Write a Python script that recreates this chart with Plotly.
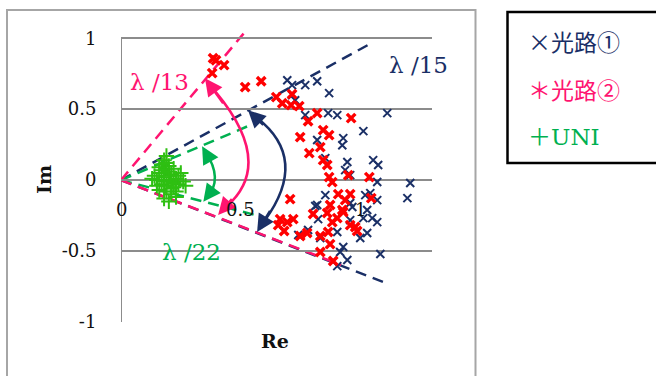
import plotly.graph_objects as go

# ---------------- data ----------------
route1_re = [0.695, 0.715, 0.770, 0.820, 0.870, 0.715, 0.728, 0.770, 0.866, 0.904,
             1.113, 1.013, 0.820, 0.929, 0.925, 0.854, 0.946, 1.054, 1.075, 0.937,
             0.958, 1.071, 1.209, 0.854, 1.197, 1.021, 1.042, 1.071, 0.812, 0.958,
             1.029, 1.013, 1.050, 1.071, 0.958, 0.824, 0.782, 0.741, 0.904, 0.929,
             0.946, 0.904, 1.084, 1.000, 1.029, 0.833, 0.820, 0.967, 0.916]
route1_im = [0.704, 0.669, 0.669, 0.697, 0.613, 0.599, 0.563, 0.458, 0.472, 0.458,
             0.472, 0.345, 0.282, 0.296, 0.246, 0.155, 0.127, 0.141, 0.106, 0.070,
             0.035, -0.014, -0.021, -0.106, -0.127, -0.106, -0.092, -0.141, -0.183, -0.162,
             -0.211, -0.268, -0.268, -0.296, -0.282, -0.275, -0.352, -0.387, -0.366, -0.472,
             -0.563, -0.606, -0.521, -0.408, -0.373, -0.408, -0.176, -0.190, -0.507]

route2_re = [0.385, 0.397, 0.431, 0.381, 0.519, 0.586, 0.649, 0.674, 0.715, 0.711,
             0.745, 0.782, 0.820, 0.962, 0.845, 0.870, 0.749, 0.833, 0.787, 0.845,
             0.862, 0.870, 0.883, 0.950, 1.038, 0.908, 0.958, 0.707, 0.874, 0.665,
             0.720, 0.682, 0.749, 0.803, 0.862, 0.929, 0.958, 0.987, 0.866, 0.874,
             0.833, 0.778, 0.887, 0.833, 1.046, 0.925, 0.904, 0.979, 0.883, 0.657,
             0.695, 0.937]
route2_im = [0.859, 0.845, 0.810, 0.754, 0.655, 0.697, 0.585, 0.542, 0.606, 0.528,
             0.521, 0.415, 0.472, 0.437, 0.352, 0.317, 0.303, 0.232, 0.190, 0.141,
             0.106, 0.021, -0.014, 0.035, 0.021, -0.099, -0.099, -0.134, -0.176, -0.275,
             -0.275, -0.359, -0.394, -0.239, -0.232, -0.225, -0.317, -0.359, -0.366, -0.451,
             -0.394, -0.373, -0.570, -0.507, -0.127, -0.211, -0.268, -0.331, -0.296, -0.317,
             -0.296, -0.141]

uni_re = [0.16, 0.18, 0.20, 0.19, 0.21, 0.17, 0.22, 0.19, 0.15, 0.23,
          0.20, 0.18, 0.17, 0.21, 0.24, 0.25, 0.16, 0.14, 0.22, 0.19,
          0.18, 0.20, 0.26, 0.23, 0.17, 0.20, 0.19, 0.21, 0.18, 0.22,
          0.16, 0.24, 0.15, 0.20, 0.21, 0.18, 0.13, 0.27, 0.19, 0.23]
uni_im = [0.05, 0.02, -0.01, 0.08, 0.04, -0.03, -0.05, -0.08, 0.00, 0.01,
          0.10, 0.14, 0.11, -0.10, -0.03, 0.05, -0.07, 0.03, 0.08, 0.17,
          -0.13, -0.15, -0.01, -0.08, 0.07, 0.03, -0.04, 0.00, 0.05, -0.02,
          0.09, 0.03, -0.04, 0.06, -0.06, -0.01, 0.01, -0.04, 0.12, -0.12]

x_tick_vals = [0, 0.5, 1]
x_tick_text = ["0", "0.5", "1"]
y_tick_vals = [-1, -0.5, 0, 0.5, 1]
y_tick_text = ["-1", "-0.5", "0", "0.5", "1"]

# guide lines from the origin: end points (Re, Im)
lam15_upper = (1.054, 0.972)
lam15_lower = (1.096, -0.718)
lam13_upper = (0.531, 1.070)
lam13_lower = (0.920, -0.598)
lam22_upper = (0.590, 0.423)
lam22_lower = (0.570, -0.250)

# curved double arrows: (start tip, control, end tip)
arc13 = ((0.351, 0.718), (0.6455, 0.116), (0.406, -0.246))
arc15 = ((0.531, 0.493), (0.788, 0.1485), (0.569, -0.366))
arc22 = ((0.339, 0.238), (0.4305, 0.0035), (0.344, -0.153))

# angle labels (text, Re, Im)
lab13 = ("λ /13", 0.163, 0.692)
lab15 = ("λ /15", 1.243, 0.810)
lab22 = ("λ /22", 0.293, -0.507)

legend_marks = ["×", "＊", "＋"]
legend_names = ["光路①", "光路②", "UNI"]

# ---------------- style ----------------
NAVY = "#1A2F66"
PINK = "#FF1470"
GREEN = "#00B050"
MARK_GREEN = "#2EBF12"
RED = "#FF0000"
GRID = "#8C8C8C"
SERIF = "DejaVu Serif, Noto Sans CJK JP"

W, H = 656, 376
ML, MR, MT, MB = 121, 224, 24, 54
PW, PH = W - ML - MR, H - MT - MB


def px_x(p):
    return (p - ML) / PW


def px_y(p):
    return (H - MB - p) / PH


fig = go.Figure()

fig.add_trace(go.Scatter(x=route1_re, y=route1_im, mode="markers", name="光路①",
                         marker=dict(symbol="x-thin-open", size=8, color=NAVY,
                                     line=dict(color=NAVY, width=2))))
fig.add_trace(go.Scatter(x=route2_re, y=route2_im, mode="markers", name="光路②",
                         marker=dict(symbol="x-thin-open", size=8.5, color=RED,
                                     line=dict(color=RED, width=3.4))))
fig.add_trace(go.Scatter(x=uni_re, y=uni_im, mode="markers", name="UNI",
                         marker=dict(symbol="cross-thin-open", size=11, color=MARK_GREEN,
                                     line=dict(color=MARK_GREEN, width=2))))

shapes = []
# vertical axis line at Re = 0
shapes.append(dict(type="line", xref="x", yref="y", x0=0, y0=-1, x1=0, y1=1,
                   line=dict(color=GRID, width=2), layer="below"))

for end, col in [(lam15_upper, NAVY), (lam15_lower, NAVY),
                 (lam22_upper, GREEN), (lam22_lower, GREEN),
                 (lam13_upper, PINK), (lam13_lower, PINK)]:
    shapes.append(dict(type="line", xref="x", yref="y", x0=0, y0=0, x1=end[0], y1=end[1],
                       line=dict(color=col, width=2.5, dash="11px,7px"), layer="below"))

annotations = []


def bez(p0, c, p2, t):
    return ((1 - t) ** 2 * p0[0] + 2 * (1 - t) * t * c[0] + t * t * p2[0],
            (1 - t) ** 2 * p0[1] + 2 * (1 - t) * t * c[1] + t * t * p2[1])


for (p0, c, p2), col in [(arc13, PINK), (arc15, NAVY), (arc22, GREEN)]:
    s0 = bez(p0, c, p2, 0.08)
    s2 = bez(p0, c, p2, 0.92)
    shapes.append(dict(type="path", xref="x", yref="y",
                       path=f"M {s0[0]},{s0[1]} Q {c[0]},{c[1]} {s2[0]},{s2[1]}",
                       line=dict(color=col, width=2.5)))
    for tip, t in [(p0, 0.16), (p2, 0.84)]:
        tail = bez(p0, c, p2, t)
        annotations.append(dict(x=tip[0], y=tip[1], ax=tail[0], ay=tail[1],
                                xref="x", yref="y", axref="x", ayref="y", text="",
                                showarrow=True, arrowhead=2, arrowsize=1.4,
                                arrowwidth=2.5, arrowcolor=col, standoff=0))

for (txt, xx, yy), col in [(lab13, PINK), (lab15, NAVY), (lab22, GREEN)]:
    annotations.append(dict(x=xx, y=yy, xref="x", yref="y", text=txt, showarrow=False,
                            xanchor="center", yanchor="middle",
                            font=dict(family=SERIF, size=23, color=col)))

# x tick labels next to the axis crossing at Im = 0
for v, t in zip(x_tick_vals, x_tick_text):
    annotations.append(dict(x=v, y=0, xref="x", yref="y", text=t, showarrow=False,
                            xanchor="center", yanchor="middle",
                            yshift=-29, font=dict(family=SERIF, size=18, color="#111")))

# axis titles
annotations.append(dict(x=px_x(44), y=px_y(180), xref="paper", yref="paper", text="<b>Im</b>",
                        showarrow=False, textangle=-90, xanchor="center", yanchor="middle",
                        font=dict(family=SERIF, size=19, color="#111")))
annotations.append(dict(x=px_x(275), y=px_y(341), xref="paper", yref="paper", text="<b>Re</b>",
                        showarrow=False, xanchor="center", yanchor="middle",
                        font=dict(family=SERIF, size=19, color="#111")))

# chart border
shapes.append(dict(type="rect", xref="paper", yref="paper",
                   x0=px_x(7), x1=px_x(475.5), y0=px_y(380), y1=px_y(10),
                   line=dict(color="#A6A6A6", width=2)))
# legend box
shapes.append(dict(type="rect", xref="paper", yref="paper",
                   x0=px_x(507.5), x1=px_x(662), y0=px_y(163), y1=px_y(12),
                   line=dict(color="#000000", width=2.5)))
for mk, nm, col, yc in zip(legend_marks, legend_names, [NAVY, PINK, GREEN], [41, 89, 135]):
    txt = f"<span style='font-family:Noto Sans CJK JP'>{mk}</span>{nm}"
    annotations.append(dict(x=px_x(526), y=px_y(yc), xref="paper", yref="paper", text=txt,
                            showarrow=False, xanchor="left", yanchor="middle",
                            font=dict(family=SERIF, size=23, color=col)))

fig.update_layout(
    width=W, height=H,
    margin=dict(l=ML, r=MR, t=MT, b=MB),
    paper_bgcolor="white", plot_bgcolor="white",
    showlegend=False,
    font=dict(family=SERIF, size=18, color="#111"),
    xaxis=dict(range=[0, 1.3], showgrid=False, zeroline=False, showticklabels=False,
               showline=False, ticks=""),
    yaxis=dict(range=[-1, 1.1], tickvals=y_tick_vals, ticktext=y_tick_text,
               showgrid=True, gridcolor=GRID, gridwidth=2, zeroline=False, showline=False,
               ticks="outside", ticklen=20, tickcolor="rgba(0,0,0,0)",
               tickfont=dict(family=SERIF, size=18, color="#111")),
    shapes=shapes,
    annotations=annotations,
)

fig.write_html("out.html", config={"displayModeBar": False},
               post_script="document.body.style.margin='0';")
